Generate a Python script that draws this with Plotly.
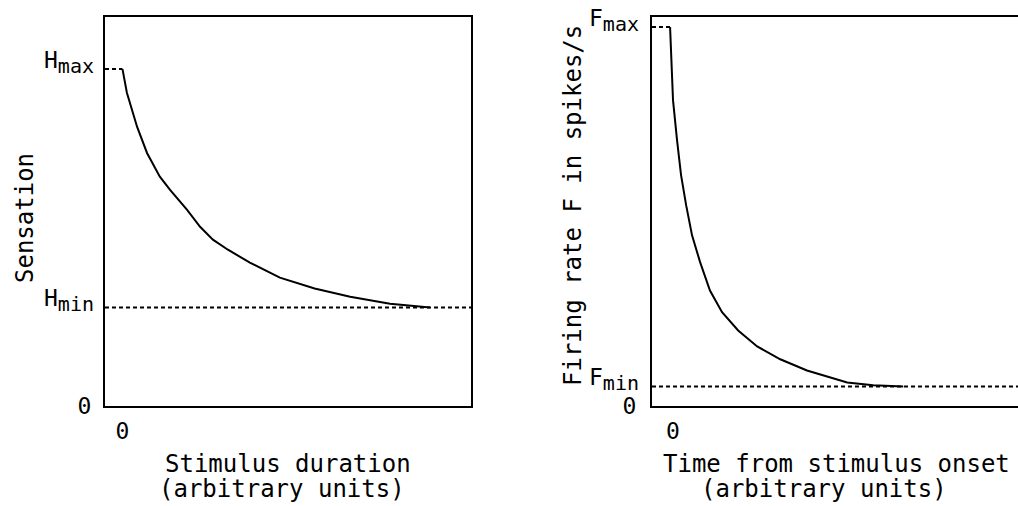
import plotly.graph_objects as go

# ---- data (arbitrary units) ----
H_MAX = 86.6
H_MIN = 25.2
F_MAX = 97.4
F_MIN = 4.9

sens_x = [0, 0.12, 0.40, 0.67, 1.02, 1.30, 1.76, 2.12, 2.47, 2.88, 3.48, 4.30, 5.25, 6.22, 7.31, 8.40]
sens_y = [86.6, 80.5, 71.7, 65.0, 58.9, 55.5, 50.4, 46.0, 42.7, 40.1, 36.8, 32.9, 30.1, 28.0, 26.2, 25.2]

rate_x = [-0.08, -0.05, 0.0, 0.11, 0.22, 0.36, 0.52, 0.74, 1.01, 1.34, 1.78, 2.30, 2.93, 3.66, 4.76, 5.47, 6.29]
rate_y = [97.4, 88.9, 78.6, 68.3, 59.3, 51.5, 43.8, 36.9, 29.6, 24.0, 19.3, 15.2, 11.9, 9.0, 5.9, 5.2, 4.9]

X1_RANGE = [-0.478, 9.522]
X2_RANGE = [-0.574, 9.426]
Y_RANGE = [0, 100]

left_labels = ["H<sub><span style='font-size:20px'>max</span></sub>",
               "H<sub><span style='font-size:20px'>min</span></sub>"]
right_labels = ["F<sub><span style='font-size:20px'>max</span></sub>",
                "F<sub><span style='font-size:20px'>min</span></sub>"]

FONT = "DejaVu Sans Mono"
W, H = 1018, 506          # target picture size (positions are given in these pixels)
H_LAYOUT = 519            # layout height (picture is rescaled vertically by the viewer)

line = dict(color="black", width=2)
dash = dict(color="black", width=2, dash="4px,3px")

fig = go.Figure()
# left panel
fig.add_trace(go.Scatter(x=[X1_RANGE[0], X1_RANGE[1]], y=[H_MIN, H_MIN], mode="lines", line=dash, xaxis="x", yaxis="y"))
fig.add_trace(go.Scatter(x=[X1_RANGE[0], sens_x[0]], y=[H_MAX, H_MAX], mode="lines", line=dash, xaxis="x", yaxis="y"))
fig.add_trace(go.Scatter(x=sens_x, y=sens_y, mode="lines", line=line, xaxis="x", yaxis="y"))
# right panel
fig.add_trace(go.Scatter(x=[X2_RANGE[0], X2_RANGE[1]], y=[F_MIN, F_MIN], mode="lines", line=dash, xaxis="x2", yaxis="y2"))
fig.add_trace(go.Scatter(x=[X2_RANGE[0], rate_x[0]], y=[F_MAX, F_MAX], mode="lines", line=dash, xaxis="x2", yaxis="y2"))
fig.add_trace(go.Scatter(x=rate_x, y=rate_y, mode="lines", line=line, xaxis="x2", yaxis="y2"))

ydom = [1 - 405.5 / H, 1 - 17 / H]
axis_common = dict(showgrid=False, zeroline=False, showline=True, linecolor="black", linewidth=2,
                   ticks="", tickfont=dict(family=FONT, size=23, color="black"), fixedrange=True)

fig.update_layout(
    width=W, height=H_LAYOUT, autosize=False,
    margin=dict(l=0, r=0, t=0, b=0),
    paper_bgcolor="white", plot_bgcolor="white",
    showlegend=False,
    xaxis=dict(domain=[105 / W, 471 / W], range=X1_RANGE, tickvals=[0], ticktext=["0"],
               mirror=True, anchor="y", ticklabelstandoff=4, **axis_common),
    yaxis=dict(domain=ydom, range=Y_RANGE, tickvals=[0], ticktext=["0"],
               mirror=True, anchor="x", ticklabelstandoff=7, **axis_common),
    xaxis2=dict(domain=[652 / W, 1.0], range=X2_RANGE, tickvals=[0], ticktext=["0"],
                mirror=True, anchor="y2", ticklabelstandoff=4, **axis_common),
    yaxis2=dict(domain=ydom, range=Y_RANGE, tickvals=[0], ticktext=["0"],
                mirror=False, anchor="x2", ticklabelstandoff=9, **axis_common),
)

# level labels (H_max, H_min, F_max, F_min) next to the y axes
lf = dict(family=FONT, size=23, color="black")
for txt, val in zip(left_labels, [H_MAX, H_MIN]):
    fig.add_annotation(text=txt, x=0, y=val, xref="x domain", yref="y", xanchor="right", yanchor="middle",
                       xshift=-9, yshift=7, showarrow=False, font=lf)
for txt, val in zip(right_labels, [F_MAX, F_MIN]):
    fig.add_annotation(text=txt, x=0, y=val, xref="x2 domain", yref="y2", xanchor="right", yanchor="middle",
                       xshift=-11, yshift=7, showarrow=False, font=lf)

tf = dict(family=FONT, size=24, color="black")

def ann(text, px, py, angle=0):
    fig.add_annotation(text=text, x=px / W, y=1 - py / H, xref="paper", yref="paper",
                       xanchor="center", yanchor="middle", showarrow=False, font=tf, textangle=angle)

ann("Stimulus duration", 288, 464)
ann("(arbitrary units)", 282, 489)
ann("Time from stimulus onset", 836, 464)
ann("(arbitrary units)", 824, 489)
ann("Sensation", 25, 218, -90)
ann("Firing rate F in spikes/s", 573, 206, -90)

fig.write_html("out.html",
               config={"responsive": False, "displayModeBar": False, "staticPlot": True},
               post_script="document.body.style.margin='0';document.body.style.overflow='hidden';"
                           "var d=document.getElementsByClassName('plotly-graph-div')[0];"
                           "d.style.position='fixed';d.style.left='0px';d.style.top='0px';")
